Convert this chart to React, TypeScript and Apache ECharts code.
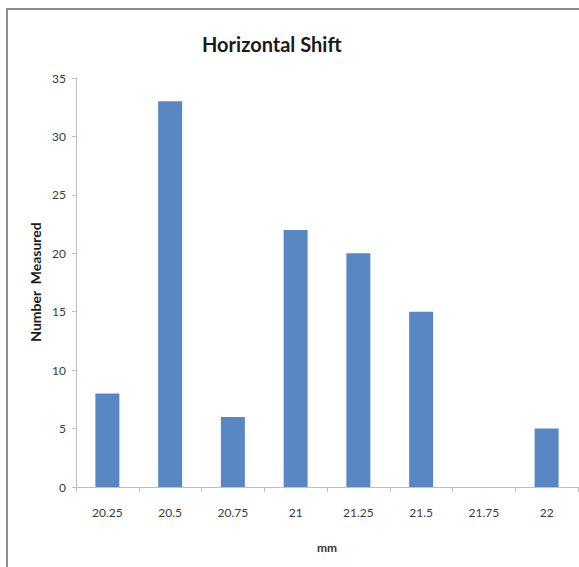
import React, { useEffect, useRef } from "react";
import * as echarts from "echarts";

const categories = ["20.25", "20.5", "20.75", "21", "21.25", "21.5", "21.75", "22"];
const counts = [8, 33, 6, 22, 20, 15, 0, 5];
const yTicks = { min: 0, max: 35, interval: 5 };

export default function App() {
  const ref = useRef<HTMLDivElement>(null);
  useEffect(() => {
    if (!ref.current) return;
    const chart = echarts.init(ref.current, null, { renderer: "svg" });
    const font = "Lato, 'Open Sans', sans-serif";
    chart.setOption({
      animation: false,
      backgroundColor: "#ffffff",
      title: {
        text: "Horizontal Shift",
        left: 197,
        top: 29,
        textStyle: { fontFamily: font, fontSize: 20, fontWeight: "bold", color: "#1a1a1a" },
      },
      graphic: [
        {
          type: "rect",
          shape: { x: 7, y: 9, width: 600, height: 600 },
          style: { fill: "none", stroke: "#8c8c8c", lineWidth: 2 },
          silent: true,
        },
        {
          type: "text",
          x: 35,
          y: 282,
          rotation: Math.PI / 2,
          style: {
            text: "Number  Measured",
            fontFamily: font,
            fontSize: 14,
            fontWeight: "bold",
            fill: "#1a1a1a",
            align: "center",
            verticalAlign: "middle",
          },
        },
      ],
      grid: { left: 76, right: 1, top: 78, bottom: 80, containLabel: false },
      xAxis: {
        type: "category",
        data: categories,
        name: "mm",
        nameLocation: "middle",
        nameGap: 54,
        nameTextStyle: { fontFamily: font, fontSize: 12, fontWeight: "bold", color: "#333" },
        axisLine: { lineStyle: { color: "#bfbfbf", width: 1 } },
        axisTick: { show: true, alignWithLabel: false, length: 5, lineStyle: { color: "#bfbfbf" } },
        axisLabel: { fontFamily: font, fontSize: 12, color: "#3a3a3a", margin: 19 },
        splitLine: { show: false },
      },
      yAxis: {
        type: "value",
        min: yTicks.min,
        max: yTicks.max,
        interval: yTicks.interval,
        axisLine: { show: true, lineStyle: { color: "#bfbfbf", width: 1 } },
        axisTick: { show: true, length: 4, lineStyle: { color: "#bfbfbf" } },
        axisLabel: { fontFamily: font, fontSize: 12, color: "#3a3a3a", margin: 10 },
        splitLine: { show: false },
      },
      series: [
        {
          type: "bar",
          data: counts,
          barWidth: 24,
          itemStyle: { color: "#5987C4" },
        },
      ],
    });
    return () => chart.dispose();
  }, []);
  return (
    <div
      ref={ref}
      style={{ position: "absolute", left: 0, top: 0, width: 579, height: 567 }}
    />
  );
}
